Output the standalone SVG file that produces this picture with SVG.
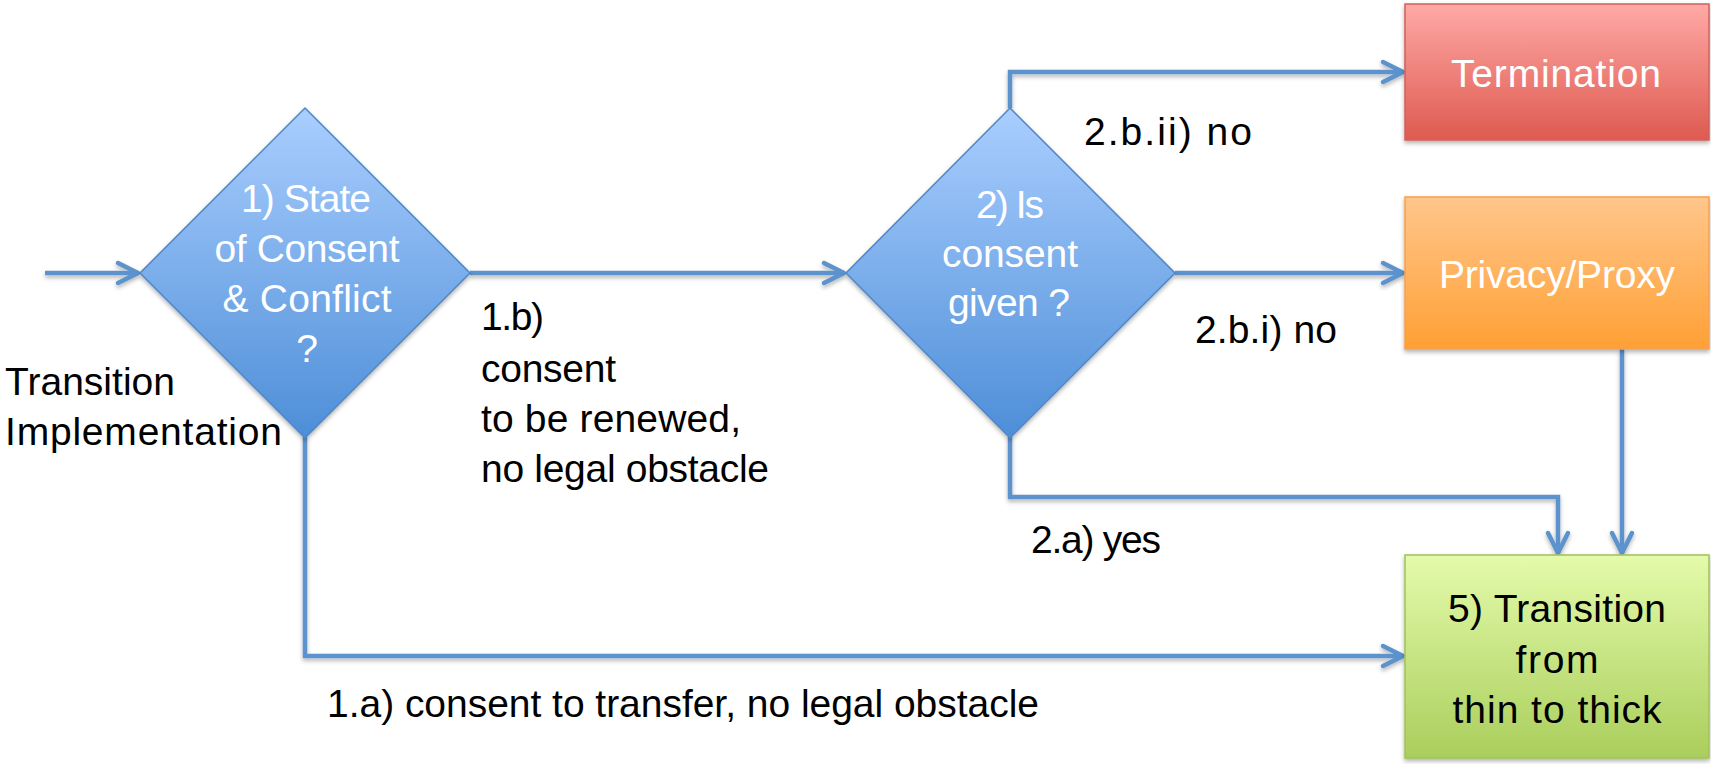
<svg xmlns="http://www.w3.org/2000/svg" width="1711" height="764" viewBox="0 0 1711 764">
<style>
text{font-family:"Liberation Sans",Arial,sans-serif;font-size:39px}
.w{fill:#ffffff}
.k{fill:#000000}
.c{text-anchor:middle}
.conn{fill:none;stroke:#5B93CD;stroke-width:4.5;stroke-linejoin:miter;marker-end:url(#arr)}
</style>
<defs>
<linearGradient id="gBlue" x1="0" y1="0" x2="0" y2="1"><stop offset="0" stop-color="#AACEFF"/><stop offset="1" stop-color="#4D8ED7"/></linearGradient>
<linearGradient id="gRed" x1="0" y1="0" x2="0" y2="1"><stop offset="0" stop-color="#FFA9A6"/><stop offset="1" stop-color="#DE5A50"/></linearGradient>
<linearGradient id="gOrange" x1="0" y1="0" x2="0" y2="1"><stop offset="0" stop-color="#FFC68B"/><stop offset="1" stop-color="#FFA035"/></linearGradient>
<linearGradient id="gGreen" x1="0" y1="0" x2="0" y2="1"><stop offset="0" stop-color="#E4FBAB"/><stop offset="1" stop-color="#AACE5C"/></linearGradient>
<filter id="sh" x="-10%" y="-10%" width="120%" height="130%"><feDropShadow dx="0" dy="2.5" stdDeviation="2" flood-color="#000" flood-opacity="0.3"/></filter>
<marker id="arr" markerUnits="userSpaceOnUse" viewBox="-26 -16 30 32" refX="0" refY="0" markerWidth="30" markerHeight="32" orient="auto">
<path d="M-20,-10 L0,0 L-20,10" fill="none" stroke="#5B93CD" stroke-width="4.5" stroke-linecap="round" stroke-linejoin="round"/>
</marker>
</defs>

<g id="connectors" filter="url(#sh)">
<path class="conn" d="M45,273 H138"/>
<path class="conn" d="M470,273 H844"/>
<path class="conn" d="M305,437 V656 H1403"/>
<path class="conn" d="M1010,108 V72 H1403"/>
<path class="conn" d="M1175,273 H1403"/>
<path class="conn" d="M1010,437 V497 H1558 V553"/>
<path class="conn" d="M1622,349 V553"/>
</g>

<g id="node-decision1">
<path d="M305,108 L470,273 L305,438 L140,273 Z" fill="url(#gBlue)" stroke="#4F86C6" stroke-width="1.5" filter="url(#sh)"/>
<text class="w c" x="306" y="212" textLength="130">1) State</text>
<text class="w c" x="307" y="262" textLength="185">of Consent</text>
<text class="w c" x="307" y="312" textLength="169">&amp; Conflict</text>
<text class="w c" x="307" y="362">?</text>
</g>

<g id="node-decision2">
<path d="M1010,108 L1175,273 L1010,438 L846,273 Z" fill="url(#gBlue)" stroke="#4F86C6" stroke-width="1.5" filter="url(#sh)"/>
<text class="w c" x="1010" y="218" textLength="68">2) Is</text>
<text class="w c" x="1010" y="267" textLength="136">consent</text>
<text class="w c" x="1009" y="316" textLength="122">given ?</text>
</g>

<g id="node-termination">
<rect x="1405" y="4" width="304" height="136" fill="url(#gRed)" stroke="#D0605A" stroke-width="1.5" filter="url(#sh)"/>
<text class="w c" x="1556" y="87" textLength="210">Termination</text>
</g>

<g id="node-privacy">
<rect x="1405" y="197" width="304" height="152" fill="url(#gOrange)" stroke="#F5A04F" stroke-width="1.5" filter="url(#sh)"/>
<text class="w c" x="1557" y="288" textLength="236">Privacy/Proxy</text>
</g>

<g id="node-transition">
<rect x="1405" y="555" width="304" height="203" fill="url(#gGreen)" stroke="#9FC25A" stroke-width="1.5" filter="url(#sh)"/>
<text class="k c" x="1557" y="622" textLength="218">5) Transition</text>
<text class="k c" x="1557" y="673" textLength="83">from</text>
<text class="k c" x="1557" y="723" textLength="209">thin to thick</text>
</g>

<g id="labels">
<text class="k" x="5" y="395" textLength="170">Transition</text>
<text class="k" x="5" y="445" textLength="277">Implementation</text>
<text class="k" x="481" y="330" textLength="63">1.b)</text>
<text class="k" x="481" y="382" textLength="135">consent</text>
<text class="k" x="481" y="432" textLength="260">to be renewed,</text>
<text class="k" x="481" y="482" textLength="288">no legal obstacle</text>
<text class="k" x="327" y="717" textLength="712">1.a) consent to transfer, no legal obstacle</text>
<text class="k" x="1084" y="145" textLength="168">2.b.ii) no</text>
<text class="k" x="1195" y="343" textLength="142">2.b.i) no</text>
<text class="k" x="1031" y="553" textLength="130">2.a) yes</text>
</g>
</svg>
